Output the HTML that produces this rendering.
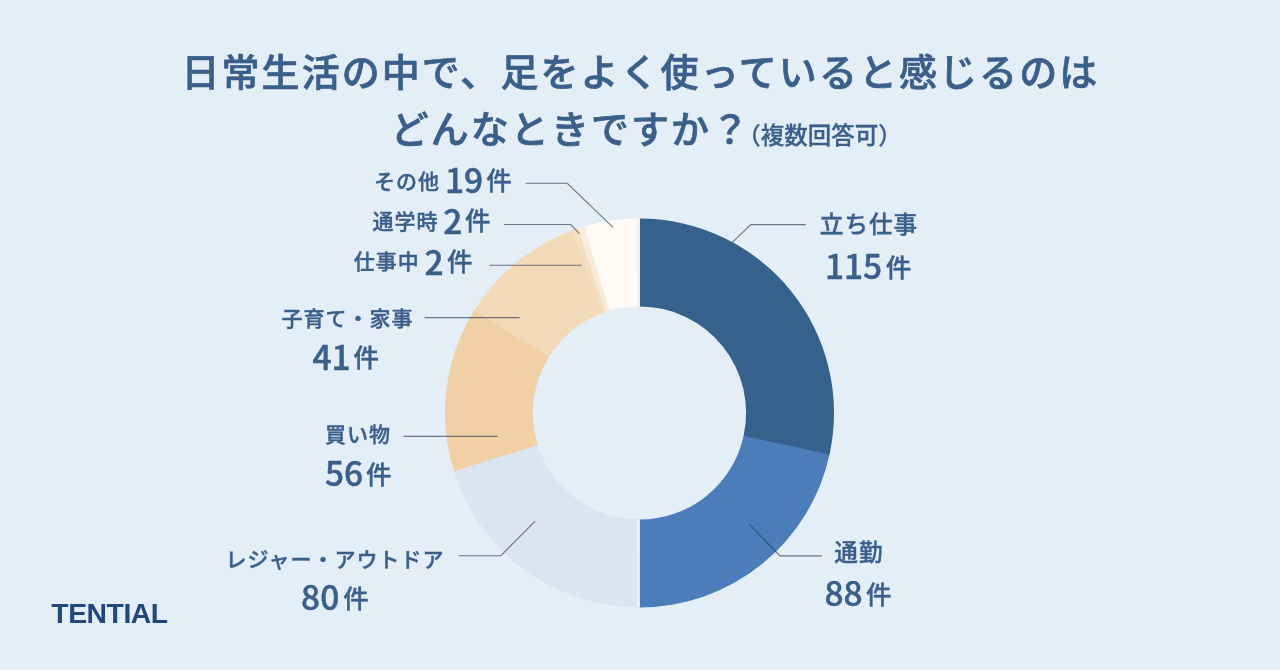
<!DOCTYPE html>
<html lang="ja">
<head>
<meta charset="utf-8">
<title>日常生活の中で、足をよく使っていると感じるのはどんなときですか？</title>
<style>
html,body{margin:0;padding:0;}
body{width:1280px;height:670px;overflow:hidden;background:#e4eef7;position:relative;
 font-family:"Liberation Sans","Noto Sans CJK JP",sans-serif;color:#3a5f8a;}
svg{position:absolute;left:0;top:0;}
.t{position:absolute;white-space:nowrap;line-height:1;font-weight:500;}
.jp{font-family:"Noto Sans CJK JP","Liberation Sans",sans-serif;}
.title{font-size:38px;letter-spacing:2.05px;-webkit-text-stroke:0.7px #3a5f8a;}
.sub{font-size:23.5px;-webkit-text-stroke:0.3px #3a5f8a;}
.lab{font-size:21px;letter-spacing:1px;-webkit-text-stroke:0.4px #3a5f8a;}
.big{font-size:23.6px;}
.num{font-size:33.5px;font-weight:500;-webkit-text-stroke:0.45px #3a5f8a;font-family:"Noto Sans CJK JP","Liberation Sans",sans-serif;}
.ken{font-size:25.5px;-webkit-text-stroke:0.4px #3a5f8a;}
.logo{font-family:"Liberation Sans",sans-serif;font-weight:700;font-size:28.3px;color:#21487a;letter-spacing:-0.45px;}
</style>
</head>
<body>
<svg width="1280" height="670" viewBox="0 0 1280 670">
<path d="M583.28 226.80A194.5 194.5 0 0 1 639.50 218.50L639.50 306.40A106.6 106.6 0 0 0 608.69 310.95Z" fill="#fffaf5"/>
<path d="M576.82 228.88A194.5 194.5 0 0 1 584.26 226.51L609.22 310.79A106.6 106.6 0 0 0 605.15 312.09Z" fill="#f9ebdc"/>
<path d="M571.38 230.82A194.5 194.5 0 0 1 577.78 228.55L605.68 311.91A106.6 106.6 0 0 0 602.17 313.15Z" fill="#f4dfc3"/>
<path d="M473.84 311.08A194.5 194.5 0 0 1 572.34 230.46L602.69 312.96A106.6 106.6 0 0 0 548.71 357.14Z" fill="#f2dab8"/>
<path d="M454.21 472.13A194.5 194.5 0 0 1 474.38 310.22L549.00 356.67A106.6 106.6 0 0 0 537.95 445.41Z" fill="#f1d0a6"/>
<path d="M639.84 607.50A194.5 194.5 0 0 1 453.90 471.16L537.78 444.88A106.6 106.6 0 0 0 639.69 519.60Z" fill="#dbe5f0"/>
<path d="M829.75 453.44A194.5 194.5 0 0 1 638.99 607.50L639.22 519.60A106.6 106.6 0 0 0 743.77 435.16Z" fill="#4a7db9"/>
<path d="M640.01 218.50A194.5 194.5 0 0 1 829.54 454.43L743.65 435.71A106.6 106.6 0 0 0 639.78 306.40Z" fill="#36618c"/>
<rect x="637.2" y="218" width="2.7" height="88.5" fill="#e9f2fb"/>
<rect x="637.2" y="519.6" width="2.7" height="88" fill="#e6effa"/>
<path d="M732.3 242.3L750.8 224.6H805.7" fill="none" stroke="#2a3a50" stroke-width="1.1" stroke-opacity="0.66"/>
<path d="M749.1 524.2L780.1 555.9H821.8" fill="none" stroke="#2a3a50" stroke-width="1.1" stroke-opacity="0.66"/>
<path d="M458.7 555.7H500.9L535.2 521.1" fill="none" stroke="#2a3a50" stroke-width="1.1" stroke-opacity="0.66"/>
<path d="M403.3 436.4H497.4" fill="none" stroke="#2a3a50" stroke-width="1.1" stroke-opacity="0.66"/>
<path d="M424.6 317.6H519.6" fill="none" stroke="#2a3a50" stroke-width="1.1" stroke-opacity="0.66"/>
<path d="M489.3 265.3H581.4" fill="none" stroke="#2a3a50" stroke-width="1.1" stroke-opacity="0.66"/>
<path d="M504 224.5H570.8L579.5 233.7" fill="none" stroke="#2a3a50" stroke-width="1.1" stroke-opacity="0.66"/>
<path d="M525.6 183.3H567.3L613 227.3" fill="none" stroke="#2a3a50" stroke-width="1.1" stroke-opacity="0.66"/>
</svg>
<div class="t jp title" id="t1" style="left:181.5px;top:50.9px;">日常生活の中で、足をよく使っていると感じるのは</div>
<div class="t jp title" id="t2" style="left:390.7px;top:107.5px;">どんなときですか？</div>
<div class="t jp sub" id="t2s" style="left:737.3px;top:122.5px;">（複数回答可）</div>
<div class="t jp lab big" id="l1" style="left:819.8px;top:212.3px;">立ち仕事</div>
<div class="t num" id="n1d" style="left:824.9px;top:248.2px;">115</div>
<div class="t jp ken" id="n1k" style="left:885.7px;top:252.7px;">件</div>
<div class="t jp lab big" id="l2" style="left:834.3px;top:539.9px;">通勤</div>
<div class="t num" id="n2d" style="left:824.4px;top:574.9px;">88</div>
<div class="t jp ken" id="n2k" style="left:866.1px;top:579.9px;">件</div>
<div class="t jp lab" id="l3" style="left:225.6px;top:547.9px;">レジャー・アウトドア</div>
<div class="t num" id="n3d" style="left:301.1px;top:579.3px;">80</div>
<div class="t jp ken" id="n3k" style="left:343.2px;top:584.2px;">件</div>
<div class="t jp lab" id="l4" style="left:325.1px;top:422.9px;">買い物</div>
<div class="t num" id="n4d" style="left:324.9px;top:455.2px;">56</div>
<div class="t jp ken" id="n4k" style="left:366.0px;top:459.7px;">件</div>
<div class="t jp lab" id="l5" style="left:281.4px;top:307.4px;">子育て・家事</div>
<div class="t num" id="n5d" style="left:312.4px;top:339.2px;">41</div>
<div class="t jp ken" id="n5k" style="left:353.6px;top:342.5px;">件</div>
<div class="t jp lab" id="r1l" style="left:374.0px;top:169.8px;">その他</div>
<div class="t num" id="r1d" style="left:444.9px;top:162.4px;">19</div>
<div class="t jp ken" id="r1k" style="left:486.3px;top:165.8px;">件</div>
<div class="t jp lab" id="r2l" style="left:372.5px;top:210.1px;">通学時</div>
<div class="t num" id="r2d" style="left:443.3px;top:202.8px;">2</div>
<div class="t jp ken" id="r2k" style="left:465.1px;top:206.0px;">件</div>
<div class="t jp lab" id="r3l" style="left:353.7px;top:249.6px;">仕事中</div>
<div class="t num" id="r3d" style="left:424.5px;top:243.7px;">2</div>
<div class="t jp ken" id="r3k" style="left:447.0px;top:247.3px;">件</div>
<div class="t logo" id="logo" style="left:51.3px;top:598.8px;">TENTIAL</div>
</body>
</html>
